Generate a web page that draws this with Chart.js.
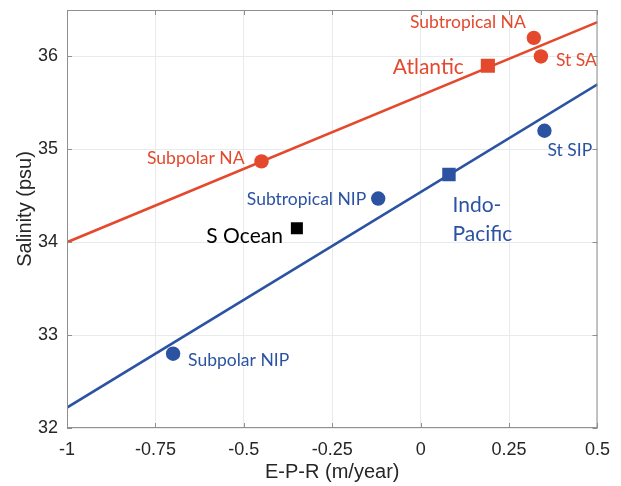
<!DOCTYPE html>
<html>
<head>
<meta charset="utf-8">
<script src="https://cdn.jsdelivr.net/npm/chart.js@4.4.1/dist/chart.umd.min.js"></script>
<style>
  html, body { margin: 0; padding: 0; background: #fff; }
</style>
</head>
<body>
<canvas id="myChart" width="621" height="486"></canvas>
<script>
const xTicks = [-1, -0.75, -0.5, -0.25, 0, 0.25, 0.5];
const yTicks = [32, 33, 34, 35, 36];

// Atlantic regions
const atlNames = ['Subtropical NA', 'St SA', 'Subpolar NA'];
const atlEPR = [0.32, 0.34, -0.45];
const atlSal = [36.2, 36.0, 34.87];

// Indo-Pacific regions
const ipNames = ['St SIP', 'Subtropical NIP', 'Subpolar NIP'];
const ipEPR = [0.35, -0.12, -0.7];
const ipSal = [35.2, 34.47, 32.8];

// basin means
const meanNames = ['Atlantic', 'Indo-Pacific', 'S Ocean'];
const meanEPR = [0.19, 0.08, -0.35];
const meanSal = [35.9, 34.73, 34.15];

// fitted lines, ends at E-P-R = -1 and 0.5
const fitEPR = [-1, 0.5];
const atlFit = [34.0, 36.37];
const ipFit = [32.22, 35.7];

const RED = '#e4482d';
const BLUE = '#2c53a2';
const INK = '#262626';

const pts = (xs, ys) => xs.map((x, i) => ({ x: x, y: ys[i] }));

// name placement relative to its marker (alphabetic baseline)
const labelStyle = {
  'Subtropical NA': { dx: -8, dy: -10, align: 'right', size: 17.5 },
  'St SA': { dx: 15, dy: 10, align: 'left', size: 17.5 },
  'Subpolar NA': { dx: -17, dy: 3, align: 'right', size: 17.5 },
  'St SIP': { dx: 3, dy: 25, align: 'left', size: 17.5 },
  'Subtropical NIP': { dx: -12, dy: 6, align: 'right', size: 17.5 },
  'Subpolar NIP': { dx: 15, dy: 12, align: 'left', size: 17.5 },
  'Atlantic': { dx: -24, dy: 8, align: 'right', size: 21 },
  'Indo-Pacific': { dx: 3.5, dy: 38, align: 'left', size: 21, lines: ['Indo-', 'Pacific'], lh: 29 },
  'S Ocean': { dx: -14, dy: 15, align: 'right', size: 21 }
};

const labelPlugin = {
  id: 'pointNames',
  afterDatasetsDraw(chart) {
    const ctx = chart.ctx;
    chart.data.datasets.forEach((ds, i) => {
      if (!ds.names) return;
      chart.getDatasetMeta(i).data.forEach((el, j) => {
        const name = ds.names[j];
        const st = labelStyle[name];
        const lines = st.lines || [name];
        ctx.save();
        ctx.font = st.size + 'px Lato';
        ctx.fillStyle = Array.isArray(ds.backgroundColor) ? ds.backgroundColor[j] : ds.backgroundColor;
        ctx.textAlign = st.align;
        ctx.textBaseline = 'alphabetic';
        lines.forEach((t, k) => ctx.fillText(t, el.x + st.dx, el.y + st.dy + k * (st.lh || 0)));
        ctx.restore();
      });
    });
  }
};

// axes box with inward ticks on all four sides, plus the y title
const boxPlugin = {
  id: 'axesBox',
  afterDraw(chart) {
    const { ctx, chartArea: a, scales } = chart;
    const len = 5;
    ctx.save();
    ctx.strokeStyle = '#8f8f8f';
    ctx.lineWidth = 1;
    ctx.beginPath();
    ctx.rect(a.left + 0.5, a.top + 0.5, a.right - a.left - 1, a.bottom - a.top - 1);
    xTicks.forEach(v => {
      const px = Math.round(scales.x.getPixelForValue(v)) + 0.5;
      ctx.moveTo(px, a.bottom); ctx.lineTo(px, a.bottom - len);
      ctx.moveTo(px, a.top); ctx.lineTo(px, a.top + len);
    });
    yTicks.forEach(v => {
      const py = Math.round(scales.y.getPixelForValue(v)) + 0.5;
      ctx.moveTo(a.left, py); ctx.lineTo(a.left + len, py);
      ctx.moveTo(a.right, py); ctx.lineTo(a.right - len, py);
    });
    ctx.stroke();

    ctx.translate(25, (a.top + a.bottom) / 2 - 10);
    ctx.rotate(-Math.PI / 2);
    ctx.font = '20px "Liberation Sans"';
    ctx.fillStyle = INK;
    ctx.textAlign = 'center';
    ctx.textBaseline = 'middle';
    ctx.fillText('Salinity (psu)', 0, 0);
    ctx.restore();
  }
};

new Chart('myChart', {
  type: 'scatter',
  data: {
    datasets: [
      {
        names: meanNames,
        data: pts(meanEPR, meanSal),
        pointStyle: 'rect',
        pointRadius: [10, 9.5, 8.5],
        backgroundColor: [RED, BLUE, '#000'],
        borderWidth: 0
      },
      {
        names: atlNames,
        data: pts(atlEPR, atlSal),
        pointRadius: 7.2,
        backgroundColor: RED,
        borderWidth: 0
      },
      {
        names: ipNames,
        data: pts(ipEPR, ipSal),
        pointRadius: 7.2,
        backgroundColor: BLUE,
        borderWidth: 0
      },
      {
        data: pts(fitEPR, atlFit),
        showLine: true,
        pointRadius: 0,
        borderColor: RED,
        borderWidth: 2.5
      },
      {
        data: pts(fitEPR, ipFit),
        showLine: true,
        pointRadius: 0,
        borderColor: BLUE,
        borderWidth: 2.5
      }
    ]
  },
  options: {
    responsive: false,
    animation: false,
    devicePixelRatio: 1,
    layout: { padding: { top: 10, right: 23, left: 0, bottom: 0 } },
    plugins: { legend: { display: false }, tooltip: { enabled: false } },
    scales: {
      x: {
        type: 'linear',
        min: -1,
        max: 0.5,
        afterBuildTicks: s => { s.ticks = xTicks.map(v => ({ value: v })); },
        afterFit: s => { s.height = 58; },
        grid: { color: '#e7ebee', drawTicks: false },
        border: { display: false },
        ticks: { color: INK, font: { family: 'Liberation Sans', size: 18 }, padding: 11, maxRotation: 0, callback: v => String(v) },
        title: { display: true, text: 'E-P-R (m/year)', color: INK, font: { family: 'Liberation Sans', size: 20 }, padding: { top: 0, bottom: 2 } }
      },
      y: {
        min: 32,
        max: 36.5,
        afterBuildTicks: s => { s.ticks = yTicks.map(v => ({ value: v })); },
        afterFit: s => { s.width = 67; s.paddingTop = 0; s.paddingBottom = 0; },
        grid: { color: '#e7ebee', drawTicks: false },
        border: { display: false },
        ticks: { color: INK, font: { family: 'Liberation Sans', size: 18 }, padding: 9, callback: v => String(v) }
      }
    }
  },
  plugins: [labelPlugin, boxPlugin]
});
</script>
</body>
</html>
